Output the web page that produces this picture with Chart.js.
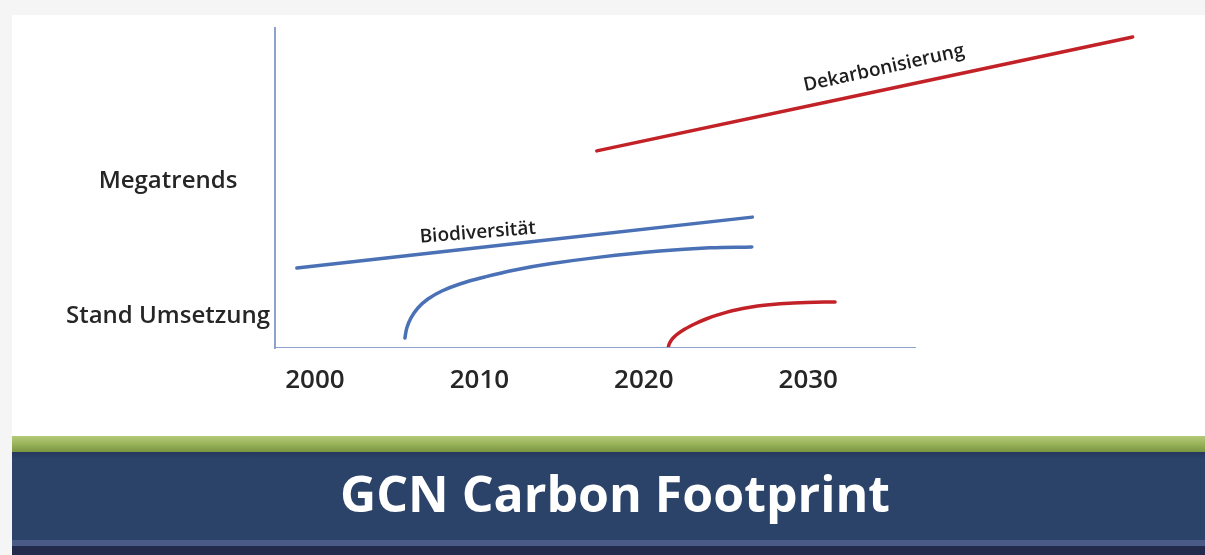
<!DOCTYPE html>
<html>
<head>
<meta charset="utf-8">
<script src="https://cdn.jsdelivr.net/npm/chart.js@4.4.1/dist/chart.umd.min.js"></script>
<style>
  html, body { margin: 0; padding: 0; }
  body { width: 1205px; height: 555px; background: #f5f5f5; position: relative; overflow: hidden; font-family: "Open Sans", sans-serif; }
  #slide { position: absolute; left: 12px; top: 15px; width: 1193px; height: 421px; background: #fff; }
  #green { position: absolute; left: 12px; top: 436px; width: 1193px; height: 16px; background: linear-gradient(#b4c97a, #9cb65c 45%, #7a9641); }
  #band { position: absolute; left: 12px; top: 452px; width: 1193px; height: 88px; background: linear-gradient(#26385d, #2b4269 8%, #2b4269); }
  #stripe { position: absolute; left: 12px; top: 540px; width: 1193px; height: 6px; background: #4a5b87; }
  #bottom { position: absolute; left: 12px; top: 546px; width: 1193px; height: 9px; background: #232a4c; }
  #title { position: absolute; left: 12px; top: 463px; width: 1193px; padding-left: 13px; box-sizing: border-box; text-align: center; color: #fff; font-weight: 700; font-size: 50px; line-height: 60px; }
</style>
</head>
<body>
<div id="slide"><canvas id="trends"></canvas></div>
<div id="green"></div>
<div id="band"></div>
<div id="stripe"></div>
<div id="bottom"></div>
<div id="title">GCN Carbon Footprint</div>
<script>
// years on the x axis, a 0-100 "level" on the y axis
const xTicks = [2000, 2010, 2020, 2030];
const yTicks = [10, 52];
const yLabels = ["Stand Umsetzung", "Megatrends"];

const axisX = [{ x: 1997.57, y: 0 }, { x: 2036.5, y: 0 }];

const biodivTrend = [{ x: 1998.9, y: 25.0 }, { x: 2026.6, y: 40.9 }];
const biodivStand = [
  { x: 2005.47, y: 3.1 }, { x: 2005.59, y: 6.3 }, { x: 2005.84, y: 9.4 },
  { x: 2006.26, y: 12.5 }, { x: 2006.87, y: 15.3 }, { x: 2007.72, y: 17.8 },
  { x: 2008.81, y: 20.0 }, { x: 2010.33, y: 22.2 }, { x: 2012.16, y: 24.4 },
  { x: 2014.29, y: 26.3 }, { x: 2017.33, y: 28.4 }, { x: 2020.97, y: 30.3 },
  { x: 2024.01, y: 31.3 }, { x: 2026.57, y: 31.6 },
];
const dekarbTrend = [{ x: 2017.14, y: 61.6 }, { x: 2049.73, y: 97.2 }];
const dekarbStand = [
  { x: 2021.48, y: 0 }, { x: 2021.54, y: 1.19 }, { x: 2021.66, y: 2.31 },
  { x: 2021.84, y: 3.41 }, { x: 2022.08, y: 4.47 }, { x: 2022.45, y: 5.75 },
  { x: 2022.81, y: 6.81 }, { x: 2023.3, y: 8.03 }, { x: 2023.79, y: 9.06 },
  { x: 2024.4, y: 10.19 }, { x: 2025.01, y: 11.13 }, { x: 2025.73, y: 12.03 },
  { x: 2026.46, y: 12.75 }, { x: 2027.31, y: 13.38 }, { x: 2028.29, y: 13.84 },
  { x: 2029.87, y: 14.25 }, { x: 2031.63, y: 14.38 },
];

const labels = [
  { text: "Biodiversität", x: 2009.9, y: 36.0, angle: -4.5 },
  { text: "Dekarbonisierung", x: 2034.6, y: 87.4, angle: -12.5 },
];

const blue = "#4a70b5";
const red = "#c22227";
const axisColor = "#8ea2cf";

const lineLabels = {
  id: "lineLabels",
  afterDatasetsDraw(chart) {
    const ctx = chart.ctx;
    const { x, y } = chart.scales;
    ctx.save();
    ctx.fillStyle = "#1e1e1e";
    ctx.font = "600 19px 'Open Sans'";
    ctx.textAlign = "center";
    ctx.textBaseline = "middle";
    labels.forEach((l) => {
      ctx.save();
      ctx.translate(x.getPixelForValue(l.x), y.getPixelForValue(l.y));
      ctx.rotate((l.angle * Math.PI) / 180);
      ctx.fillText(l.text, 0, 0);
      ctx.restore();
    });
    ctx.restore();
  },
};

function series(data, color, width) {
  return {
    data: data,
    borderColor: color,
    borderWidth: width,
    pointRadius: 0,
    tension: 0.4,
    borderCapStyle: "round",
  };
}

new Chart(document.getElementById("trends"), {
  type: "line",
  data: {
    datasets: [
      series(axisX, axisColor, 2),
      series(biodivTrend, blue, 3.5),
      series(biodivStand, blue, 3.5),
      series(dekarbTrend, red, 3.5),
      series(dekarbStand, red, 3.5),
    ],
  },
  options: {
    responsive: true,
    maintainAspectRatio: false,
    animation: false,
    layout: { padding: { left: 0, top: 13, right: 35, bottom: 0 } },
    plugins: { legend: { display: false }, tooltip: { enabled: false } },
    scales: {
      x: {
        type: "linear",
        min: 1997.57,
        max: 2052,
        grid: { display: false, drawTicks: false },
        border: { display: false },
        afterBuildTicks: (scale) => {
          scale.ticks = xTicks.map((v) => ({ value: v }));
        },
        afterFit: (scale) => {
          scale.height = 88;
          scale.paddingLeft = 0;
          scale.paddingRight = 0;
        },
        ticks: {
          padding: 17,
          color: "#262626",
          font: { family: "Open Sans", size: 26, weight: "600" },
          callback: (v) => String(v),
        },
      },
      y: {
        min: 0,
        max: 100,
        grid: { display: false, drawTicks: false },
        border: { display: true, color: axisColor, width: 2 },
        afterBuildTicks: (scale) => {
          scale.ticks = yTicks.map((v) => ({ value: v }));
        },
        afterFit: (scale) => {
          scale.width = 263;
          scale.paddingTop = 0;
          scale.paddingBottom = 0;
        },
        ticks: {
          padding: 5,
          crossAlign: "center",
          color: "#262626",
          font: { family: "Open Sans", size: 24, weight: "600" },
          callback: (v) => yLabels[yTicks.indexOf(v)],
        },
      },
    },
  },
  plugins: [lineLabels],
});
</script>
</body>
</html>
